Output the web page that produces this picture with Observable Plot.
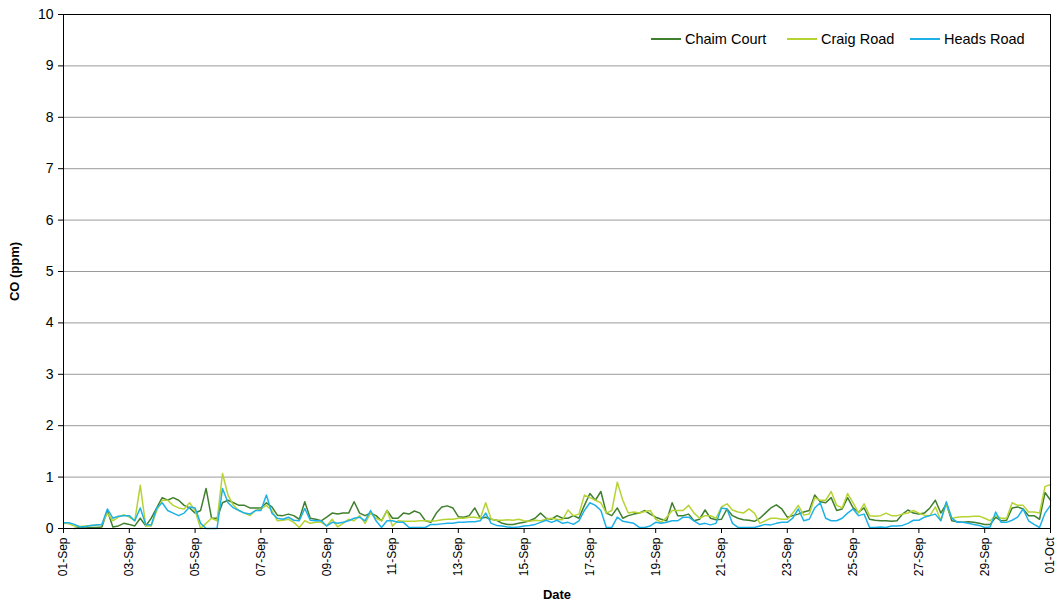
<!DOCTYPE html>
<html>
<head>
<meta charset="utf-8">
<script src="https://cdn.jsdelivr.net/npm/d3@7"></script>
<script src="https://cdn.jsdelivr.net/npm/@observablehq/plot@0.6"></script>
<style>
  html, body { margin: 0; padding: 0; background: #fff; }
  #wrap { position: relative; width: 1057px; height: 603px; font-family: "Liberation Sans", Arial, sans-serif; }
  #wrap svg { position: absolute; left: 0; top: 0; }
  .lg { position: absolute; top: 30px; height: 18px; display: flex; align-items: center; font-size: 14.5px; color: #000; white-space: nowrap; }
  .lg span.sw { display: inline-block; width: 30px; height: 2px; margin-right: 4px; }
</style>
</head>
<body>
<div id="wrap"></div>
<script>
// ---- data: 4-hourly CO readings (ppm), 01-Sep 00:00 to 01-Oct 00:00 ----
const seriesNames = ["Chaim Court", "Craig Road", "Heads Road"];
const seriesColors = ["#3f7f2e", "#b6d334", "#1eb1e7"];
const startDate = "2008-09-01T00:00:00Z";
const stepHours = 4;

const chaimCourt = [
  null, null, 0.00, 0.02, 0.01, 0.02,
  0.02, 0.03, 0.35, 0.03, 0.05, 0.10,
  0.08, 0.05, 0.20, 0.05, 0.20, 0.40,
  0.60, 0.55, 0.60, 0.55, 0.45, 0.40,
  0.30, 0.35, 0.78, 0.20, 0.20, 0.50,
  0.55, 0.50, 0.45, 0.45, 0.40, 0.40,
  0.40, 0.50, 0.42, 0.26, 0.25, 0.28,
  0.25, 0.18, 0.52, 0.20, 0.18, 0.15,
  0.22, 0.30, 0.28, 0.30, 0.30, 0.52,
  0.30, 0.25, 0.30, 0.25, 0.15, 0.35,
  0.20, 0.20, 0.30, 0.28, 0.34, 0.30,
  0.15, 0.12, 0.30, 0.42, 0.44, 0.40,
  0.23, 0.22, 0.25, 0.40, 0.20, 0.22,
  0.18, 0.16, 0.10, 0.08, 0.08, 0.10,
  0.12, 0.15, 0.20, 0.30, 0.20, 0.18,
  0.25, 0.20, 0.20, 0.25, 0.20, 0.45,
  0.68, 0.55, 0.72, 0.30, 0.25, 0.40,
  0.20, 0.25, 0.28, 0.30, 0.35, 0.28,
  0.22, 0.18, 0.15, 0.50, 0.25, 0.25,
  0.28, 0.15, 0.18, 0.36, 0.20, 0.17,
  0.18, 0.38, 0.25, 0.20, 0.17, 0.16,
  0.14, 0.20, 0.30, 0.40, 0.46, 0.38,
  0.22, 0.25, 0.28, 0.32, 0.35, 0.65,
  0.52, 0.50, 0.60, 0.35, 0.38, 0.60,
  0.40, 0.32, 0.40, 0.18, 0.16, 0.15,
  0.15, 0.14, 0.15, 0.28, 0.36, 0.30,
  0.28, 0.30, 0.40, 0.55, 0.30, 0.48,
  0.15, 0.13, 0.12, 0.13, 0.12, 0.10,
  0.08, 0.08, 0.22, 0.15, 0.16, 0.40,
  0.42, 0.38, 0.25, 0.25, 0.18, 0.70,
  0.55
];

const craigRoad = [
  0.10, 0.09, 0.05, 0.04, 0.05, 0.06,
  0.07, 0.08, 0.30, 0.15, 0.22, 0.27,
  0.22, 0.15, 0.84, 0.05, 0.05, 0.35,
  0.55, 0.55, 0.45, 0.40, 0.38, 0.50,
  0.35, 0.00, 0.10, 0.20, 0.15, 1.07,
  0.65, 0.45, 0.35, 0.30, 0.25, 0.35,
  0.38, 0.45, 0.35, 0.15, 0.16, 0.18,
  0.12, 0.02, 0.15, 0.10, 0.12, 0.12,
  0.05, 0.18, 0.03, 0.10, 0.18, 0.15,
  0.25, 0.10, 0.30, 0.20, 0.15, 0.35,
  0.05, 0.15, 0.14, 0.14, 0.14, 0.15,
  0.15, 0.14, 0.15, 0.17, 0.18, 0.18,
  0.20, 0.20, 0.22, 0.22, 0.20, 0.50,
  0.18, 0.16, 0.16, 0.17, 0.16, 0.18,
  0.15, 0.14, 0.16, 0.15, 0.18, 0.20,
  0.18, 0.17, 0.36, 0.25, 0.28, 0.65,
  0.60, 0.55, 0.50, 0.30, 0.35, 0.90,
  0.55, 0.30, 0.32, 0.30, 0.33, 0.35,
  0.18, 0.12, 0.22, 0.35, 0.35, 0.35,
  0.45, 0.30, 0.20, 0.25, 0.25, 0.20,
  0.42, 0.48, 0.36, 0.32, 0.30, 0.38,
  0.30, 0.10, 0.15, 0.20, 0.20, 0.18,
  0.18, 0.30, 0.45, 0.26, 0.28, 0.60,
  0.55, 0.55, 0.72, 0.45, 0.40, 0.68,
  0.50, 0.30, 0.48, 0.25, 0.24, 0.25,
  0.30, 0.25, 0.25, 0.28, 0.30, 0.35,
  0.30, 0.26, 0.25, 0.42, 0.16, 0.48,
  0.20, 0.22, 0.23, 0.23, 0.24, 0.24,
  0.20, 0.15, 0.25, 0.20, 0.20, 0.50,
  0.45, 0.45, 0.32, 0.32, 0.30, 0.82,
  0.85
];

const headsRoad = [
  0.11, 0.11, 0.08, 0.03, 0.04, 0.06,
  0.07, 0.08, 0.38, 0.20, 0.24, 0.25,
  0.25, 0.15, 0.40, 0.08, 0.07, 0.40,
  0.50, 0.35, 0.30, 0.25, 0.30, 0.42,
  0.40, 0.10, 0.00, 0.00, 0.00, 0.78,
  0.50, 0.40, 0.35, 0.30, 0.28, 0.35,
  0.35, 0.65, 0.30, 0.20, 0.18, 0.22,
  0.16, 0.15, 0.39, 0.16, 0.15, 0.15,
  0.05, 0.12, 0.10, 0.12, 0.15, 0.20,
  0.22, 0.15, 0.35, 0.15, 0.02, 0.15,
  0.15, 0.12, 0.12, 0.02, 0.02, 0.02,
  0.02, 0.08, 0.08, 0.09, 0.10, 0.10,
  0.12, 0.12, 0.13, 0.13, 0.15, 0.30,
  0.10, 0.06, 0.05, 0.03, 0.02, 0.03,
  0.05, 0.06, 0.08, 0.12, 0.16, 0.12,
  0.16, 0.10, 0.12, 0.08, 0.15, 0.35,
  0.50, 0.45, 0.35, 0.02, 0.02, 0.22,
  0.14, 0.12, 0.10, 0.02, 0.02, 0.05,
  0.12, 0.10, 0.12, 0.15, 0.15, 0.22,
  0.22, 0.15, 0.08, 0.10, 0.07, 0.10,
  0.40, 0.38, 0.10, 0.02, 0.02, 0.02,
  0.02, 0.05, 0.08, 0.07, 0.10, 0.12,
  0.12, 0.20, 0.38, 0.15, 0.18, 0.40,
  0.50, 0.20, 0.15, 0.15, 0.20, 0.30,
  0.38, 0.25, 0.28, 0.02, 0.02, 0.03,
  0.02, 0.05, 0.05, 0.06, 0.10, 0.16,
  0.16, 0.22, 0.25, 0.28, 0.15, 0.52,
  0.20, 0.12, 0.12, 0.10, 0.08, 0.06,
  0.02, 0.03, 0.32, 0.12, 0.12, 0.16,
  0.22, 0.38, 0.15, 0.08, 0.02, 0.30,
  0.45
];

const yTicks = [0, 1, 2, 3, 4, 5, 6, 7, 8, 9, 10];
const xTickLabels = ["01-Sep","03-Sep","05-Sep","07-Sep","09-Sep","11-Sep","13-Sep","15-Sep","17-Sep","19-Sep","21-Sep","23-Sep","25-Sep","27-Sep","29-Sep","01-Oct"];

// ---- build table ----
const t0 = new Date(startDate);
const stepMs = stepHours * 3600 * 1000;
const allSeries = [chaimCourt, craigRoad, headsRoad];
const rows = [];
allSeries.forEach((vals, k) => {
  vals.forEach((v, i) => rows.push({ series: seriesNames[k], date: new Date(+t0 + i * stepMs), value: v }));
});
const tEnd = new Date(+t0 + (chaimCourt.length - 1) * stepMs);
const parseTick = d3.utcParse("%d-%b-%Y");
const xTicks = xTickLabels.map(s => parseTick(s + "-" + t0.getUTCFullYear()));

const chart = Plot.plot({
  width: 1057,
  height: 603,
  marginLeft: 63,
  marginRight: 7,
  marginTop: 14,
  marginBottom: 75,
  style: { fontFamily: '"Liberation Sans", Arial, sans-serif', color: "#000", background: "#fff", overflow: "visible" },
  x: { type: "utc", domain: [t0, tEnd] },
  y: { domain: [0, 10] },
  color: { domain: seriesNames, range: seriesColors },
  marks: [
    Plot.gridY(yTicks.slice(1, -1), { stroke: "#9a9a9a", strokeOpacity: 1, strokeWidth: 1 }),
    Plot.line(rows, { x: "date", y: "value", z: "series", stroke: "series", strokeWidth: 1.5 }),
    Plot.frame({ stroke: "#000", strokeWidth: 1 }),
    Plot.axisY({
      ticks: yTicks, tickSize: 5, tickPadding: 5, fontSize: 14,
      label: "CO (ppm)", labelAnchor: "center", labelArrow: "none", labelOffset: 54
    }),
    Plot.axisX({
      ticks: xTicks, tickFormat: d3.utcFormat("%d-%b"), tickRotate: -90, tickSize: 5, tickPadding: 4, fontSize: 12,
      label: "Date", labelAnchor: "center", labelArrow: "none", labelOffset: 70
    })
  ]
});
chart.querySelectorAll('g[aria-label="y-axis label"] text, g[aria-label="x-axis label"] text').forEach(t => {
  t.setAttribute("font-weight", "bold");
  t.setAttribute("font-size", 13);
});

const wrap = document.getElementById("wrap");
wrap.appendChild(chart);

// legend (inside plot, top-right)
const legendLeft = [651, 787, 910];
seriesNames.forEach((name, k) => {
  const d = document.createElement("div");
  d.className = "lg";
  d.style.left = legendLeft[k] + "px";
  d.innerHTML = `<span class="sw" style="background:${seriesColors[k]}"></span>${name}`;
  wrap.appendChild(d);
});
</script>
</body>
</html>
